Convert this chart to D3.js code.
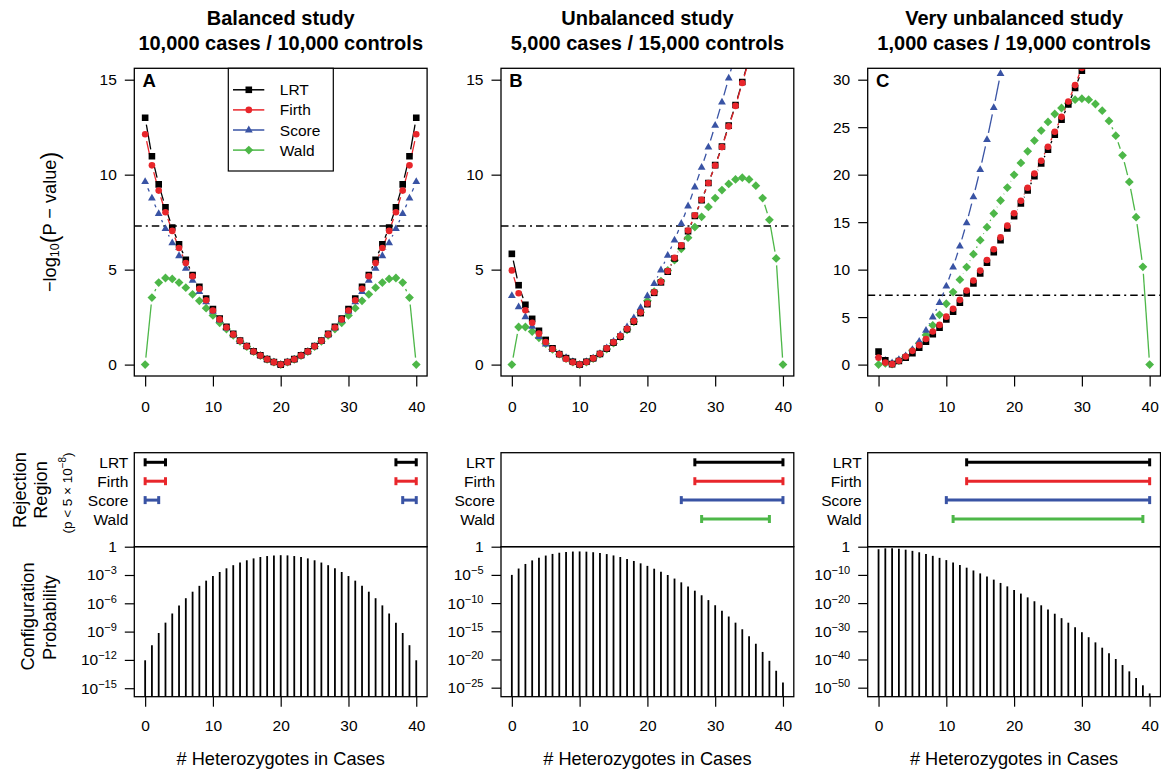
<!DOCTYPE html>
<html><head><meta charset="utf-8">
<script src="https://cdn.jsdelivr.net/npm/d3@7"></script>
<style>
body{margin:0;background:#fff}
svg{display:block}
text{font-family:"Liberation Sans",Arial,Helvetica,sans-serif;fill:#000}
</style>
</head><body>
<svg id="c" width="1161" height="772"></svg>
<script>
// ---------------- DATA ----------------
const hets = [0,1,2,3,4,5,6,7,8,9,10,11,12,13,14,15,16,17,18,19,20,21,22,23,24,25,26,27,28,29,30,31,32,33,34,35,36,37,38,39,40];
const xTicks = [0,10,20,30,40];
const methods = ["LRT","Firth","Score","Wald"];
const threshold = 7.30; // -log10(5e-8)

// Panel A: balanced study, -log10(P)
const A_LRT   = [13.00,10.97,9.49,8.28,7.22,6.34,5.52,4.72,4.09,3.48,2.92,2.43,1.99,1.62,1.27,0.98,0.70,0.49,0.29,0.14,0.00,0.14,0.29,0.49,0.70,0.98,1.27,1.62,1.99,2.43,2.92,3.48,4.09,4.72,5.52,6.34,7.22,8.28,9.49,10.97,13.00];
const A_Firth = [12.13,10.49,9.16,8.02,7.04,6.14,5.35,4.65,3.99,3.39,2.85,2.38,1.95,1.59,1.25,0.96,0.69,0.48,0.28,0.13,0.00,0.13,0.28,0.48,0.69,0.96,1.25,1.59,1.95,2.38,2.85,3.39,3.99,4.65,5.35,6.14,7.04,8.02,9.16,10.49,12.13];
const A_Score = [9.63,8.77,7.95,7.16,6.41,5.73,5.07,4.44,3.84,3.30,2.80,2.34,1.92,1.56,1.23,0.95,0.68,0.47,0.28,0.13,0.00,0.13,0.28,0.47,0.68,0.95,1.23,1.56,1.92,2.34,2.80,3.30,3.84,4.44,5.07,5.73,6.41,7.16,7.95,8.77,9.63];
const A_Wald  = [0.00,3.53,4.32,4.56,4.51,4.32,4.05,3.70,3.36,2.97,2.59,2.20,1.87,1.54,1.23,0.95,0.68,0.47,0.28,0.13,0.00,0.13,0.28,0.47,0.68,0.95,1.23,1.54,1.87,2.20,2.59,2.97,3.36,3.70,4.05,4.32,4.51,4.56,4.32,3.53,0.00];

// Panel B: unbalanced study
const B_LRT   = [5.83,4.18,3.15,2.41,1.78,1.30,0.86,0.55,0.34,0.15,0.00,0.15,0.33,0.56,0.84,1.16,1.47,1.86,2.26,2.71,3.18,3.78,4.33,4.89,5.59,6.25,7.03,7.83,8.66,9.56,10.50,11.48,12.58,13.67,14.88,16.10,17.40,18.80,20.30,21.90,23.60];
const B_Firth = [4.96,3.76,2.86,2.20,1.63,1.19,0.82,0.54,0.30,0.12,0.00,0.14,0.33,0.57,0.86,1.18,1.50,1.89,2.29,2.75,3.22,3.81,4.36,4.93,5.62,6.28,7.06,7.86,8.68,9.56,10.48,11.45,12.54,13.62,14.83,16.05,17.35,18.70,20.20,21.80,23.50];
const B_Score = [3.63,3.04,2.52,2.01,1.48,1.08,0.80,0.57,0.36,0.16,0.00,0.15,0.34,0.58,0.88,1.22,1.56,1.99,2.46,3.00,3.62,4.26,4.98,5.75,6.55,7.43,8.35,9.35,10.38,11.45,12.60,13.82,15.08,16.40,17.80,19.20,20.70,22.30,23.90,25.60,27.40];
const B_Wald  = [0.00,1.98,1.98,1.74,1.41,1.10,0.80,0.55,0.32,0.13,0.00,0.13,0.32,0.55,0.82,1.13,1.46,1.83,2.25,2.75,3.36,3.84,4.40,4.96,5.50,6.10,6.68,7.24,7.78,8.30,8.77,9.19,9.51,9.75,9.84,9.75,9.42,8.77,7.62,5.59,0.00];

// Panel C: very unbalanced study
const C_LRT   = [1.37,0.45,0.05,0.38,0.73,1.19,1.79,2.42,3.19,3.89,4.76,5.57,6.52,7.50,8.55,9.60,10.72,11.84,13.10,14.33,15.63,16.96,18.33,19.83,21.17,22.64,24.22,25.79,27.40,29.13,30.95,32.90,34.90,37.00,39.20,41.50,43.90,46.40,49.00,51.80,54.80];
const C_Firth = [0.73,0.21,0.05,0.40,0.85,1.45,2.05,2.70,3.48,4.18,5.05,5.87,6.82,7.80,8.85,9.90,11.02,12.14,13.40,14.63,15.93,17.26,18.63,20.13,21.47,22.94,24.52,26.09,27.70,29.43,31.25,33.20,35.20,37.30,39.50,41.80,44.20,46.70,49.30,52.10,55.10];
const C_Score = [0.95,0.45,0.17,0.52,0.91,1.58,2.45,3.61,5.01,6.52,8.27,10.27,12.48,14.93,17.67,20.54,23.69,27.06,30.63,34.40,38.40,42.60,47.00,51.60,56.40,61.40,66.60,72.00,77.60,83.40,89.40,95.60,102.00,108.60,115.40,122.40,129.60,137.00,144.60,152.40,160.40];
const C_Wald  = [0.00,0.12,0.04,0.42,0.85,1.50,2.25,3.13,4.14,5.24,6.41,7.64,8.94,10.27,11.63,13.10,14.47,15.91,17.28,18.64,19.98,21.24,22.46,23.59,24.64,25.55,26.39,27.02,27.51,27.90,28.00,27.90,27.44,26.74,25.66,24.11,22.04,19.24,15.52,10.30,0.00];

// Rejection regions (p < 5e-8): [from, to] intervals per method
const A_reject = {LRT:[[0,3],[37,40]], Firth:[[0,3],[37,40]], Score:[[0,2],[38,40]], Wald:[]};
const B_reject = {LRT:[[27,40]], Firth:[[27,40]], Score:[[25,40]], Wald:[[28,38]]};
const C_reject = {LRT:[[13,40]], Firth:[[13,40]], Score:[[10,40]], Wald:[[11,39]]};

// Configuration probabilities, log10
const A_prob = [-12.04,-10.44,-9.15,-8.05,-7.08,-6.22,-5.46,-4.77,-4.15,-3.60,-3.11,-2.68,-2.29,-1.96,-1.68,-1.44,-1.24,-1.09,-0.99,-0.92,-0.90,-0.92,-0.99,-1.09,-1.24,-1.44,-1.68,-1.96,-2.29,-2.68,-3.11,-3.60,-4.15,-4.77,-5.46,-6.22,-7.08,-8.05,-9.15,-10.44,-12.04];
const B_prob = [-5.00,-3.87,-3.06,-2.43,-1.95,-1.57,-1.28,-1.07,-0.93,-0.86,-0.84,-0.88,-0.98,-1.12,-1.31,-1.55,-1.83,-2.16,-2.53,-2.95,-3.40,-3.90,-4.44,-5.02,-5.65,-6.32,-7.04,-7.80,-8.61,-9.47,-10.38,-11.35,-12.38,-13.47,-14.64,-15.88,-17.21,-18.66,-20.24,-22.00,-24.08];
const C_prob = [-0.89,-0.57,-0.56,-0.73,-1.05,-1.47,-1.98,-2.57,-3.24,-3.96,-4.75,-5.59,-6.49,-7.44,-8.43,-9.47,-10.55,-11.68,-12.85,-14.07,-15.33,-16.63,-17.97,-19.35,-20.78,-22.26,-23.77,-25.34,-26.95,-28.61,-30.33,-32.10,-33.93,-35.82,-37.79,-39.83,-41.97,-44.21,-46.59,-49.16,-52.04];

const A_yTicks = [0,5,10,15];
const B_yTicks = [0,5,10,15];
const C_yTicks = [0,5,10,15,20,25,30];
const A_probTicks = [0,-3,-6,-9,-12,-15];
const B_probTicks = [0,-5,-10,-15,-20,-25];
const C_probTicks = [0,-10,-20,-30,-40,-50];

const titles1 = ["Balanced study","Unbalanced study","Very unbalanced study"];
const titles2 = ["10,000 cases / 10,000 controls","5,000 cases / 15,000 controls","1,000 cases / 19,000 controls"];
const panelLetters = ["A","B","C"];

// ---------------- STYLE / LAYOUT ----------------
const colors = {LRT:"#000000", Firth:"#E8262B", Score:"#3953A4", Wald:"#4DB748"};
const shapes = {
  LRT:   "M-3.3,-3.3L3.3,-3.3L3.3,3.3L-3.3,3.3Z",
  Firth: "M3.3,0A3.3,3.3 0 1,1 -3.3,0A3.3,3.3 0 1,1 3.3,0Z",
  Score: "M0,-4.4L3.9,2.4L-3.9,2.4Z",
  Wald:  "M0,-4.4L4.4,0L0,4.4L-4.4,0Z"
};
const drawOrder = ["Wald","Score","LRT","Firth"];

const panels = [
  {left:134.3, yMax:15, yTicks:A_yTicks, series:{LRT:A_LRT,Firth:A_Firth,Score:A_Score,Wald:A_Wald}, reject:A_reject, prob:A_prob, probTicks:A_probTicks, probMin:-15.9, legend:true},
  {left:501.0, yMax:15, yTicks:B_yTicks, series:{LRT:B_LRT,Firth:B_Firth,Score:B_Score,Wald:B_Wald}, reject:B_reject, prob:B_prob, probTicks:B_probTicks, probMin:-26.6, legend:false},
  {left:867.7, yMax:30, yTicks:C_yTicks, series:{LRT:C_LRT,Firth:C_Firth,Score:C_Score,Wald:C_Wald}, reject:C_reject, prob:C_prob, probTicks:C_probTicks, probMin:-53.2, legend:false}
];

const W = 292.8;
const TOP = {y0:68.3, y1:376};
const REJ = {y0:452.7, y1:546.7};
const PROB = {y0:546.7, y1:696.7};
const TICK_FS = 15.5, LAB_FS = 18.2, TITLE_FS = 20;
const GAP = 7;

const svg = d3.select("#c");
const defs = svg.append("defs");

function styleAxis(g){
  g.select(".domain").remove();
  g.selectAll(".tick line").attr("stroke","#000").attr("stroke-width",1.2);
  g.selectAll(".tick text").attr("font-size",TICK_FS+"px").attr("fill","#000")
   .attr("font-family",'"Liberation Sans",Arial,Helvetica,sans-serif');
}

panels.forEach((p, pi) => {
  const L = p.left;
  const x = d3.scaleLinear().domain([-1.6, 41.6]).range([L, L+W]);
  const yT = d3.scaleLinear().domain([-0.04*p.yMax, 1.04*p.yMax]).range([TOP.y1, TOP.y0]);
  const yP = d3.scaleLinear().domain([p.probMin, 0]).range([PROB.y1, PROB.y0]);
  const yR = d3.scalePoint().domain(methods).range([462.3, 519]);
  const cx = L + W/2;

  // titles
  svg.append("text").attr("x",cx).attr("y",25).attr("text-anchor","middle")
    .attr("font-weight","bold").attr("font-size",TITLE_FS+"px").text(titles1[pi]);
  svg.append("text").attr("x",cx).attr("y",49.5).attr("text-anchor","middle")
    .attr("font-weight","bold").attr("font-size",TITLE_FS+"px").text(titles2[pi]);

  // ---------- top panel ----------
  const clipId = "clip"+pi;
  defs.append("clipPath").attr("id",clipId).append("rect")
    .attr("x",L).attr("y",TOP.y0).attr("width",W).attr("height",TOP.y1-TOP.y0);
  const gp = svg.append("g").attr("clip-path",`url(#${clipId})`);

  // threshold
  gp.append("line").attr("x1",L).attr("x2",L+W).attr("y1",yT(threshold)).attr("y2",yT(threshold))
    .attr("stroke","#000").attr("stroke-width",1.5).attr("stroke-dasharray","7.5,4,2,4");

  // lines (type "b": segments with gaps around points)
  drawOrder.forEach(m => {
    const pts = hets.map((k,i) => [x(k), yT(p.series[m][i])]);
    const segs = d3.pairs(pts).map(([a,b]) => {
      const dx=b[0]-a[0], dy=b[1]-a[1], d=Math.hypot(dx,dy);
      if (d <= 2*GAP) return null;
      const ux=dx/d, uy=dy/d;
      return [a[0]+ux*GAP, a[1]+uy*GAP, b[0]-ux*GAP, b[1]-uy*GAP];
    }).filter(s => s);
    gp.append("g").selectAll("line").data(segs).join("line")
      .attr("x1",s=>s[0]).attr("y1",s=>s[1]).attr("x2",s=>s[2]).attr("y2",s=>s[3])
      .attr("stroke",colors[m]).attr("stroke-width",1.3);
  });
  // points
  drawOrder.forEach(m => {
    gp.append("g").selectAll("path").data(hets).join("path")
      .attr("d",shapes[m]).attr("fill",colors[m])
      .attr("transform",(k,i)=>`translate(${x(k)},${yT(p.series[m][i])})`);
  });

  svg.append("rect").attr("x",L).attr("y",TOP.y0).attr("width",W).attr("height",TOP.y1-TOP.y0)
    .attr("fill","none").attr("stroke","#000").attr("stroke-width",1.3);

  const gyT = svg.append("g").attr("transform",`translate(${L},0)`)
    .call(d3.axisLeft(yT).tickValues(p.yTicks).tickSize(9.5).tickPadding(8));
  styleAxis(gyT);
  const gxT = svg.append("g").attr("transform",`translate(0,${TOP.y1})`)
    .call(d3.axisBottom(x).tickValues(xTicks).tickSize(10.5).tickFormat(d3.format("d")));
  styleAxis(gxT);
  gxT.selectAll(".tick text").attr("y",36).attr("dy",null);

  svg.append("text").attr("x",L+8.3).attr("y",86.8).attr("font-weight","bold")
    .attr("font-size","18.5px").text(panelLetters[pi]);

  // legend
  if (p.legend) {
    const lx = L+94, ly = TOP.y0;
    svg.append("rect").attr("x",lx).attr("y",ly).attr("width",105).attr("height",102.7)
      .attr("fill","#fff").attr("stroke","#000").attr("stroke-width",1.2);
    const ys = d3.scalePoint().domain(methods).range([ly+21.5, ly+81.8]);
    methods.forEach(m => {
      const yy = ys(m);
      svg.append("line").attr("x1",lx+4.7).attr("x2",lx+36).attr("y1",yy).attr("y2",yy)
        .attr("stroke",colors[m]).attr("stroke-width",1.5);
      svg.append("path").attr("d",shapes[m]).attr("fill",colors[m])
        .attr("transform",`translate(${lx+20.5},${yy})`);
      svg.append("text").attr("x",lx+51.5).attr("y",yy).attr("dy","0.36em")
        .attr("font-size",TICK_FS+"px").text(m);
    });
  }

  // ---------- rejection region ----------
  methods.forEach(m => {
    svg.append("text").attr("x",L-6).attr("y",yR(m)).attr("dy","0.36em")
      .attr("text-anchor","end").attr("font-size",TICK_FS+"px").text(m);
    p.reject[m].forEach(iv => {
      const g = svg.append("g").attr("stroke",colors[m]).attr("stroke-width",3);
      g.append("line").attr("x1",x(iv[0])).attr("x2",x(iv[1])).attr("y1",yR(m)).attr("y2",yR(m));
      g.append("line").attr("x1",x(iv[0])).attr("x2",x(iv[0])).attr("y1",yR(m)-4).attr("y2",yR(m)+4);
      g.append("line").attr("x1",x(iv[1])).attr("x2",x(iv[1])).attr("y1",yR(m)-4).attr("y2",yR(m)+4);
    });
  });
  svg.append("rect").attr("x",L).attr("y",REJ.y0).attr("width",W).attr("height",REJ.y1-REJ.y0)
    .attr("fill","none").attr("stroke","#000").attr("stroke-width",1.3);

  // ---------- configuration probability ----------
  svg.append("g").selectAll("line").data(hets).join("line")
    .attr("x1",k=>x(k)).attr("x2",k=>x(k))
    .attr("y1",yP(p.probMin)).attr("y2",(k,i)=>yP(p.prob[i]))
    .attr("stroke","#000").attr("stroke-width",1.8);
  svg.append("rect").attr("x",L).attr("y",PROB.y0).attr("width",W).attr("height",PROB.y1-PROB.y0)
    .attr("fill","none").attr("stroke","#000").attr("stroke-width",1.3);

  const gyP = svg.append("g").attr("transform",`translate(${L},0)`)
    .call(d3.axisLeft(yP).tickValues(p.probTicks).tickSize(9.5).tickPadding(8).tickFormat(()=>""));
  styleAxis(gyP);
  gyP.selectAll(".tick text").each(function(d){
    const t = d3.select(this).text(null);
    if (d === 0) { t.text("1"); }
    else {
      t.append("tspan").text("10");
      t.append("tspan").attr("dy","-0.55em").attr("font-size","11px").text("\u2212"+(-d));
    }
  });
  const gxP = svg.append("g").attr("transform",`translate(0,${PROB.y1})`)
    .call(d3.axisBottom(x).tickValues(xTicks).tickSize(10).tickFormat(d3.format("d")));
  styleAxis(gxP);
  gxP.selectAll(".tick text").attr("y",34.8).attr("dy",null);

  svg.append("text").attr("x",cx).attr("y",765).attr("text-anchor","middle")
    .attr("font-size",LAB_FS+"px").text("# Heterozygotes in Cases");
});

// ---------- left-side axis titles ----------
const t1 = svg.append("text").attr("transform","translate(50,222) rotate(-90)")
  .attr("text-anchor","middle").attr("dominant-baseline","central").attr("font-size",LAB_FS+"px");
t1.append("tspan").text("\u2212log");
t1.append("tspan").attr("font-size","12.5px").attr("dy","5").text("10");
t1.append("tspan").attr("font-size","23px").attr("dy","-5").text("(");
t1.append("tspan").text("P \u2212 value");
t1.append("tspan").attr("font-size","23px").text(")");

svg.append("text").attr("transform","translate(20,490) rotate(-90)").attr("text-anchor","middle")
  .attr("dominant-baseline","central").attr("font-size",LAB_FS+"px").text("Rejection");
svg.append("text").attr("transform","translate(41,490) rotate(-90)").attr("text-anchor","middle")
  .attr("dominant-baseline","central").attr("font-size",LAB_FS+"px").text("Region");
const t2 = svg.append("text").attr("transform","translate(67,493) rotate(-90)").attr("text-anchor","middle")
  .attr("dominant-baseline","central").attr("font-size","13.5px");
t2.append("tspan").text("(p < 5 \u00d7 10");
t2.append("tspan").attr("font-size","10px").attr("dy","-5").text("\u22128");
t2.append("tspan").attr("dy","5").text(")");

svg.append("text").attr("transform","translate(28,616.5) rotate(-90)").attr("text-anchor","middle")
  .attr("dominant-baseline","central").attr("font-size",LAB_FS+"px").text("Configuration");
svg.append("text").attr("transform","translate(50,617.5) rotate(-90)").attr("text-anchor","middle")
  .attr("dominant-baseline","central").attr("font-size",LAB_FS+"px").text("Probability");
</script>
</body></html>
